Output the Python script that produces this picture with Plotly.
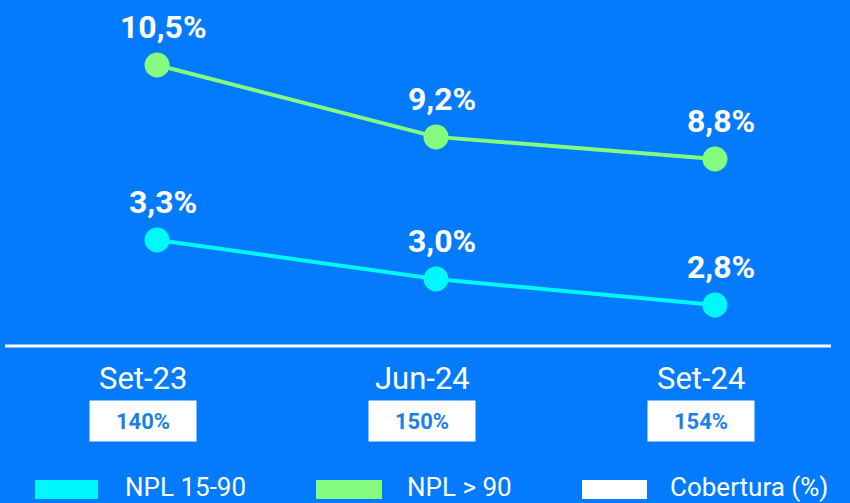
import plotly.graph_objects as go

periods = ["Set-23", "Jun-24", "Set-24"]
npl_15_90 = [3.3, 3.0, 2.8]
npl_90 = [10.5, 9.2, 8.8]
cobertura = [140, 150, 154]
legend_names = ["NPL 15-90", "NPL > 90", "Cobertura (%)"]

BG = "#037BFC"
CYAN = "#00F7FB"
GREEN = "#84FB7F"
W, H = 850, 503


def pct(v):
    return "<b>" + f"{v:.1f}%".replace(".", ",") + "</b>"


fig = go.Figure()

series = [(npl_90, GREEN, "y"), (npl_15_90, CYAN, "y2")]
annotations = []
for vals, col, ax in series:
    fig.add_trace(
        go.Scatter(
            x=periods,
            y=vals,
            mode="lines+markers",
            line=dict(color=col, width=4),
            marker=dict(color=col, size=25),
            yaxis=ax,
            showlegend=False,
            cliponaxis=False,
        )
    )
    for p, v in zip(periods, vals):
        annotations.append(dict(
            x=p, xref="x", y=v, yref=ax, xshift=6, yshift=38,
            text=pct(v), showarrow=False, yanchor="middle",
            font=dict(family="Roboto", size=32, color="white"),
        ))

for p, c in zip(periods, cobertura):
    annotations.append(dict(
        x=p, xref="x", y=1 - 378 / H, yref="paper", xshift=-14,
        text=p, showarrow=False, yanchor="middle",
        font=dict(family="Roboto", size=31, color="white"),
    ))
    annotations.append(dict(
        x=p, xref="x", y=1 - 421 / H, yref="paper", xshift=-14,
        text=f"<b>{c}%</b>", showarrow=False, yanchor="middle",
        width=106, height=40, borderpad=0, bgcolor="white",
        font=dict(family="Roboto", size=22, color="#1B7FE6"),
    ))

shapes = [dict(type="line", xref="paper", yref="paper",
               x0=5 / W, x1=831 / W, y0=1 - 346 / H, y1=1 - 346 / H,
               line=dict(color="white", width=3))]

swatches = [(35, 98, 123, CYAN), (316, 382, 405, GREEN), (582, 647, 668, "white")]
for (x0, x1, tx, col), name in zip(swatches, legend_names):
    shapes.append(dict(type="rect", xref="paper", yref="paper",
                       x0=x0 / W, x1=x1 / W, y0=1 - 499 / H, y1=1 - 480 / H,
                       fillcolor=col, line=dict(width=0)))
    annotations.append(dict(
        x=tx / W, xref="paper", y=1 - 487 / H, yref="paper",
        text=name, showarrow=False, xanchor="left", yanchor="middle",
        font=dict(family="Roboto", size=26, color="white"),
    ))

fig.update_layout(
    width=W,
    height=H,
    margin=dict(l=0, r=0, t=0, b=0),
    paper_bgcolor=BG,
    plot_bgcolor=BG,
    xaxis=dict(range=[-0.563, 2.484], visible=False, fixedrange=True),
    yaxis=dict(range=[2.58, 11.675], visible=False),
    yaxis2=dict(range=[1.277, 5.146], visible=False, overlaying="y"),
    shapes=shapes,
    annotations=annotations,
)

fig.write_html(
    "out.html",
    config={"displayModeBar": False},
    post_script="document.body.style.margin='0';",
)
